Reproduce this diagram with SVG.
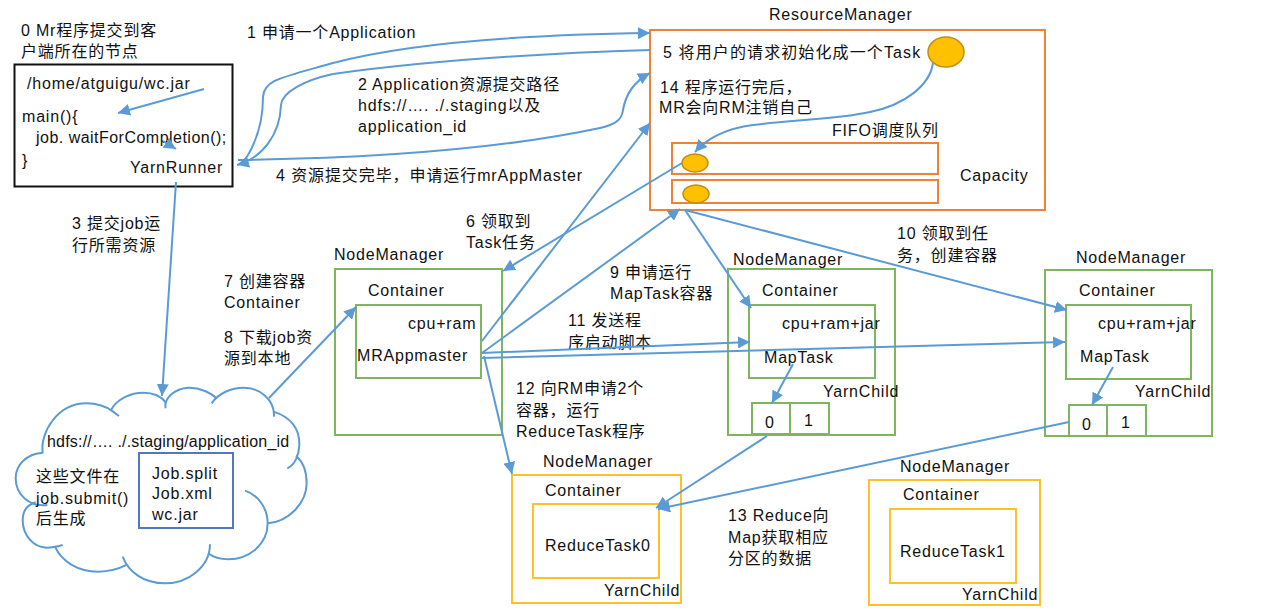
<svg xmlns="http://www.w3.org/2000/svg" width="1264" height="611" viewBox="0 0 1264 611">
<style>
text{font-family:"Liberation Sans","Noto Sans CJK SC",sans-serif;font-size:16px;fill:#111;letter-spacing:.8px;transform:translate(0,1px)}
.c{fill:none;stroke:#5B9BD5;stroke-width:2}
.a{marker-end:url(#arrow)}
.g{fill:none;stroke:#7FB55F;stroke-width:2}
.o{fill:none;stroke:#F0813A;stroke-width:2}
.y{fill:none;stroke:#FFC125;stroke-width:2}
.e{fill:#FFC000;stroke:#BE9010;stroke-width:1.5}
</style>
<defs>
<marker id="arrow" markerUnits="userSpaceOnUse" markerWidth="14" markerHeight="12" refX="12" refY="6" orient="auto"><path d="M0 0L12 6L0 12Z" fill="#5B9BD5"/></marker>
</defs>
<rect width="1264" height="611" fill="#fff"/>
<g id="cloud">
<g transform="translate(0 370) scale(.3333)" fill="none" stroke="#5B9BD5" stroke-width="6">
<path d="M128 248C120 190 170 100 260 100C290 100 320 110 335 122L357 138"/>
<path d="M332 122C350 85 395 68 430 68C460 68 485 80 498 98"/>
<path d="M497 115C490 85 525 55 565 53C600 52 635 70 650 85"/>
<path d="M635 100C655 70 695 53 730 53C780 53 825 90 822 140"/>
<path d="M820 125C870 140 900 175 898 225C897 255 885 285 862 295"/>
<path d="M888 258C915 280 920 310 920 340C920 400 865 455 803 460"/>
<path d="M735 362C775 375 803 415 803 460C803 525 745 568 685 568C665 568 640 562 625 550"/>
<path d="M630 523C630 590 565 640 495 640C430 640 385 605 368 560"/>
<path d="M380 585C350 600 320 605 295 605C235 605 185 575 165 530"/>
<path d="M188 525C170 530 155 533 140 533C100 533 68 495 68 450C68 425 80 405 107 397"/>
<path d="M142 405C90 412 47 375 47 325C47 285 80 250 130 248"/>
</g>
<text x="47" y="446" textLength="243">hdfs://…. ./.staging/application_id</text>
<text x="36" y="481">这些文件在</text>
<text x="36" y="503">job.submit()</text>
<text x="36" y="523">后生成</text>
<rect x="139" y="453" width="94" height="75" fill="none" stroke="#4F78BE" stroke-width="2"/>
<text x="152" y="478">Job.split</text>
<text x="152" y="498">Job.xml</text>
<text x="152" y="519">wc.jar</text>
</g>
<g id="client">
<text x="21" y="35">0 Mr程序提交到客</text>
<text x="21" y="56">户端所在的节点</text>
<rect x="14.500" y="64.500" width="218" height="122" fill="none" stroke="#111" stroke-width="2"/>
<text x="27" y="88">/home/atguigu/wc.jar</text>
<text x="22" y="121">main(){</text>
<text x="36" y="142" textLength="191">job. waitForCompletion();</text>
<text x="22" y="165">}</text>
<text x="130" y="172">YarnRunner</text>
</g>
<g id="resourcemanager">
<text x="769" y="19">ResourceManager</text>
<rect x="650" y="30" width="395" height="180" class="o"/>
<text x="663" y="57" textLength="258">5 将用户的请求初始化成一个Task</text>
<ellipse cx="946" cy="52" rx="18" ry="15" class="e"/>
<text x="660" y="92">14 程序运行完后，</text>
<text x="659" y="112">MR会向RM注销自己</text>
<text x="832" y="135">FIFO调度队列</text>
<rect x="672" y="143" width="266" height="31" class="o"/>
<rect x="672" y="180" width="266" height="23" class="o"/>
<ellipse cx="695" cy="163" rx="13" ry="9" class="e"/>
<ellipse cx="696" cy="194" rx="13" ry="9" class="e"/>
<text x="960" y="180">Capacity</text>
</g>
<g id="nm-master">
<text x="334" y="259">NodeManager</text>
<rect x="335" y="269" width="167" height="166" class="g"/>
<text x="368" y="295">Container</text>
<rect x="356" y="305" width="125" height="73" class="g"/>
<text x="408" y="328">cpu+ram</text>
<text x="357" y="360">MRAppmaster</text>
</g>
<g id="nm-map1">
<text x="733" y="264">NodeManager</text>
<rect x="728" y="269" width="167" height="166" class="g"/>
<text x="762" y="295">Container</text>
<rect x="749" y="305" width="126" height="73" class="g"/>
<text x="782" y="328">cpu+ram+jar</text>
<text x="764" y="362">MapTask</text>
<text x="823" y="396">YarnChild</text>
<rect x="752" y="403" width="38" height="31" class="g"/>
<rect x="790" y="403" width="39" height="31" class="g"/>
<text x="765" y="427">0</text>
<text x="804" y="425">1</text>
</g>
<g id="nm-map2">
<text x="1076" y="262">NodeManager</text>
<rect x="1045" y="270" width="167" height="166" class="g"/>
<text x="1079" y="295">Container</text>
<rect x="1066" y="305" width="125" height="74" class="g"/>
<text x="1098" y="328">cpu+ram+jar</text>
<text x="1080" y="361">MapTask</text>
<text x="1135" y="396">YarnChild</text>
<rect x="1069" y="405" width="38" height="31" class="g"/>
<rect x="1107" y="405" width="39" height="31" class="g"/>
<text x="1082" y="429">0</text>
<text x="1121" y="427">1</text>
</g>
<g id="nm-reduce0">
<text x="543" y="466">NodeManager</text>
<rect x="512" y="475" width="169" height="128" class="y"/>
<text x="545" y="495">Container</text>
<rect x="533" y="504" width="126" height="74" class="y"/>
<text x="545" y="550">ReduceTask0</text>
<text x="604" y="595">YarnChild</text>
</g>
<g id="nm-reduce1">
<text x="900" y="471">NodeManager</text>
<rect x="869" y="480" width="171" height="125" class="y"/>
<text x="903" y="499">Container</text>
<rect x="890" y="509" width="126" height="74" class="y"/>
<text x="900" y="556">ReduceTask1</text>
<text x="962" y="599">YarnChild</text>
</g>
<g id="labels">
<text x="247" y="37">1 申请一个Application</text>
<text x="358" y="89">2 Application资源提交路径</text>
<text x="358" y="110">hdfs://…. ./.staging以及</text>
<text x="358" y="131">application_id</text>
<text x="276" y="180" textLength="307">4 资源提交完毕，申请运行mrAppMaster</text>
<text x="72" y="228">3 提交job运</text>
<text x="72" y="250">行所需资源</text>
<text x="466" y="226">6 领取到</text>
<text x="466" y="247">Task任务</text>
<text x="224" y="286">7 创建容器</text>
<text x="224" y="307">Container</text>
<text x="224" y="342">8 下载job资</text>
<text x="224" y="363">源到本地</text>
<text x="610" y="277">9 申请运行</text>
<text x="610" y="298">MapTask容器</text>
<text x="568" y="325">11 发送程</text>
<text x="568" y="347">序启动脚本</text>
<text x="516" y="393">12 向RM申请2个</text>
<text x="516" y="415">容器，运行</text>
<text x="516" y="436">ReduceTask程序</text>
<text x="897" y="238">10 领取到任</text>
<text x="897" y="260">务，创建容器</text>
<text x="728" y="520">13 Reduce向</text>
<text x="728" y="542">Map获取相应</text>
<text x="728" y="563">分区的数据</text>
</g>
<g id="connectors">
<path class="c a" d="M204 89L118 113"/>
<path class="c a" d="M163 141L176 149"/>
<path class="c a" d="M176 182L162 396"/>
<path class="c a" d="M245 160C258 140 263 120 263 97C264 80 280 78 333 63C400 45 500 35 650 33"/>
<path class="c a" d="M650 50C520 54 420 62 333 74C305 80 282 92 281 105C280 135 262 158 237 165"/>
<path class="c a" d="M238 160C400 158 520 145 600 128C618 124 622 118 623 110C626 92 637 80 650 73"/>
<path class="c a" d="M933 63C930 85 905 105 870 112C840 119 790 120 753 125C730 128 710 135 695 152"/>
<path class="c a" d="M682 163L503 271"/>
<path class="c a" d="M482 341L650 123"/>
<path class="c a" d="M482 353L680 209"/>
<path class="c a" d="M685 210L751 308"/>
<path class="c a" d="M685 210L1067 310"/>
<path class="c a" d="M482 353L750 342"/>
<path class="c a" d="M482 358L1065 342"/>
<path class="c a" d="M484 356L512 474"/>
<path class="c a" d="M269 398L356 307"/>
<path class="c a" d="M793 364L772 403"/>
<path class="c a" d="M1113 367L1092 405"/>
<path class="c a" d="M767 436L656 508"/>
<path class="c a" d="M1069 422L658 509"/>
</g>
</svg>
